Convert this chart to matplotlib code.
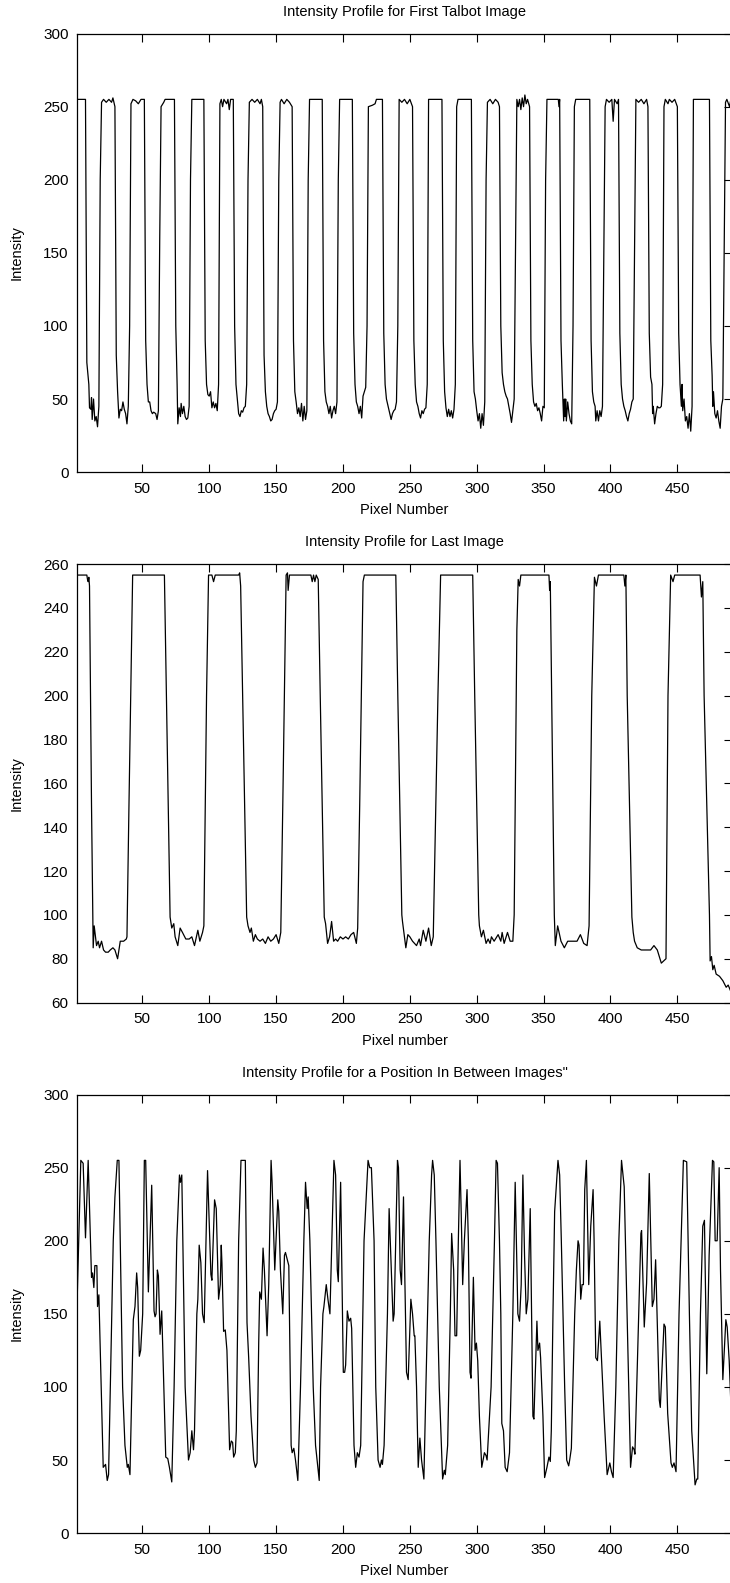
import matplotlib
matplotlib.use("Agg")
import matplotlib.pyplot as plt

plt.rcParams['font.family'] = ['Liberation Sans', 'DejaVu Sans']

# Panel 1: intensity profile for first Talbot image (pixel, intensity)
first_px = [1, 7.5, 8.5, 10, 10.5, 11.5, 12, 12.5, 13.5, 14.5, 15.5, 16.5, 17.5, 18.5, 19.5, 21, 23, 25, 27, 28, 29.5,
            30.5, 31.5, 32.5, 33.5, 34.5, 35.5, 36.5, 37.5, 38.5, 39.5, 40.5, 41.5, 43, 45, 47, 49, 51.5,
            52.5, 53.5, 54.5, 55.5, 56.5, 57.5, 58.5, 60, 61, 62, 63, 64, 66, 67, 74,
            75, 76, 76.5, 77.5, 78.5, 79, 80, 81, 82, 83, 84, 85, 86, 87, 96,
            97, 98, 99, 100, 101, 102, 103, 104, 105, 106, 107, 108, 109, 110, 111, 113, 114, 115, 116, 118,
            119, 120, 121, 122, 123, 124, 125, 126, 127, 128, 129, 130, 132, 134, 136, 138, 139, 140,
            141, 142, 143, 144, 145, 146, 147, 148, 149, 150, 151, 152, 153, 154, 156, 158, 160, 162,
            163, 164, 165, 166, 167, 168, 169, 170, 171, 172, 173, 174, 175, 184.5,
            185.5, 186.5, 187.5, 188.5, 189.5, 190.5, 191.5, 192.5, 193.5, 194.5, 195.5, 196.5, 197.5, 207,
            208, 209, 210, 211, 212, 213, 214, 215, 216, 217, 218, 219, 222, 224, 225, 229.5,
            230.5, 231.5, 232.5, 233.5, 234.5, 236, 237, 238, 239, 240, 241, 242, 244, 246, 248, 250, 252,
            253, 254, 255, 256, 257, 258, 259, 260, 261, 262, 263, 264, 274,
            275, 276, 277, 278, 279, 280, 281, 282, 283, 284, 285, 286, 296,
            297, 298, 299, 300, 301, 302, 303, 304, 305, 306, 307, 308, 310, 312, 314, 316, 317,
            318, 319, 320, 321, 322, 323, 324, 325, 326, 327, 328, 329, 330, 331, 332, 333, 334, 335, 336, 337, 338, 339.5,
            340.5, 341.5, 342.5, 343.5, 344.5, 345.5, 346.5, 347.5, 348.5, 349.5, 350.5, 351.5, 352.5, 361, 361.5, 362,
            363, 364, 365, 365.5, 366, 366.5, 367, 368, 369, 370, 371, 372, 373, 374, 384.5,
            385.5, 386.5, 387.5, 388.5, 389, 390, 391, 392, 393, 394, 395, 396, 397, 399, 401, 402, 403, 405, 406,
            407, 408, 409, 410, 411, 412, 413, 414, 415, 416, 417, 418, 419, 421, 423, 425, 427, 428,
            429, 430, 431, 431.5, 432, 433, 434, 435, 436, 437, 438, 439, 440, 441, 443, 444, 446, 448, 450,
            451, 452, 453, 453.5, 454, 455, 456, 457, 458, 459, 460, 461, 462, 474,
            475, 476, 476.5, 477, 478, 479, 480, 481, 482, 483, 484, 485, 486, 487, 489, 490, 491]
first_int = [255, 255, 75, 60, 44, 43, 51, 36, 50, 35, 38, 31, 45, 200, 253, 255, 253, 255, 253, 256, 250,
             80, 55, 37, 43, 42, 48, 43, 40, 33, 45, 100, 252, 255, 254, 252, 255, 255,
             90, 60, 48, 48, 42, 40, 41, 40, 36, 42, 160, 250, 253, 255, 255,
             100, 60, 33, 44, 38, 47, 40, 45, 38, 36, 37, 45, 200, 255, 255,
             90, 60, 53, 52, 55, 44, 48, 44, 47, 42, 60, 252, 255, 250, 255, 252, 255, 248, 255, 255,
             100, 60, 50, 40, 38, 42, 41, 44, 45, 60, 200, 253, 255, 253, 255, 252, 255, 250,
             80, 55, 45, 40, 38, 35, 36, 40, 42, 43, 48, 200, 253, 255, 252, 255, 253, 250,
             90, 55, 48, 40, 44, 38, 47, 35, 45, 36, 42, 200, 255, 255,
             90, 55, 48, 45, 40, 45, 37, 42, 45, 40, 48, 200, 255, 255,
             95, 60, 48, 45, 40, 45, 37, 52, 55, 58, 100, 250, 251, 252, 255, 255,
             95, 60, 50, 46, 42, 36, 40, 42, 43, 48, 100, 255, 253, 255, 252, 255, 250,
             90, 60, 48, 45, 40, 37, 42, 40, 43, 44, 60, 255, 255,
             90, 55, 44, 38, 43, 38, 42, 37, 43, 60, 250, 255, 255,
             90, 55, 50, 42, 35, 40, 30, 40, 32, 48, 200, 253, 255, 252, 255, 253, 250,
             100, 68, 60, 55, 52, 50, 45, 40, 34, 42, 50, 150, 255, 250, 255, 248, 256, 250, 258, 252, 255, 250,
             90, 60, 48, 45, 47, 42, 44, 40, 35, 45, 44, 200, 255, 255, 250, 255,
             90, 60, 35, 50, 38, 50, 35, 48, 40, 35, 33, 100, 250, 255, 255,
             90, 55, 48, 45, 35, 42, 35, 42, 38, 45, 150, 250, 255, 253, 255, 240, 255, 252, 255,
             95, 60, 50, 45, 42, 38, 35, 40, 43, 48, 50, 150, 255, 253, 255, 252, 255, 250,
             95, 65, 60, 40, 45, 33, 40, 45, 44, 44, 45, 60, 250, 255, 252, 255, 253, 255, 250,
             95, 60, 45, 60, 42, 50, 35, 38, 30, 40, 28, 45, 255, 255,
             90, 66, 45, 55, 40, 37, 42, 35, 30, 45, 50, 150, 253, 255, 250, 255, 252]

# Panel 2: intensity profile for last image
last_px = [1, 8.5, 9, 9.5, 10, 10.5, 12, 13.25, 14, 15, 15.75, 17, 18, 19.5, 21, 22.5, 24.5, 26, 28, 29.5,
           31.5, 32.5, 33.5, 36, 38, 38.5, 40, 42.75, 66.5, 68, 70.75, 72, 73.5, 74.5, 76.5, 78.25, 80,
           82.5, 85, 87, 89, 91.5, 93, 95, 96, 98, 99.5, 102, 103.25, 104.5, 122, 122.75, 123.5, 125,
           128, 129, 130.5, 131.5, 133, 134.5, 136, 138, 140, 142, 144, 146, 148, 150, 152, 153.5, 155,
           157.5, 158.5, 159, 160, 176, 177, 178, 179, 180, 181.5, 183, 186, 187, 188.5, 190, 191.5, 193,
           194.5, 196, 198, 200, 202, 204, 206, 208, 210, 211, 212.5, 215, 216, 239.5, 241, 244, 244.5,
           246, 247, 248.5, 250, 252, 255, 257, 258, 260, 262, 264, 266, 267.5, 271, 273, 297, 298.5,
           301.5, 302, 303.5, 305, 307, 308.5, 310, 311, 313, 315, 316, 318, 319, 320.5, 323, 325, 327,
           328, 330, 331, 332, 333, 354, 354.5, 355, 356, 358, 358.75, 360.5, 363, 365.5, 368, 370, 375,
           377.5, 380, 382.5, 384, 386, 388, 389.5, 391, 410, 410.75, 411.5, 412.5, 416, 417, 418, 420,
           423, 430, 432.5, 435, 438, 441.5, 443, 445, 446.75, 448, 467, 468, 469, 470, 474, 474.5,
           475.5, 476.5, 477.5, 479, 481.5, 484, 486.5, 488, 490, 491]
last_int = [255, 255, 253, 252, 254, 250, 150, 85, 95, 90, 86, 88, 85, 88, 84, 83, 83, 84, 85, 84,
            80, 84, 88, 88, 89, 90, 150, 255, 255, 200, 99, 94, 96, 90, 86, 94, 92,
            89, 89, 90, 86, 93, 88, 92, 95, 200, 255, 255, 252, 255, 255, 256, 250, 200,
            99, 95, 92, 94, 88, 91, 89, 88, 89, 87, 90, 88, 89, 91, 87, 92, 150,
            255, 256, 248, 255, 255, 252, 255, 252, 255, 253, 200, 99, 96, 87, 90, 97, 88,
            89, 88, 90, 89, 90, 89, 91, 92, 87, 94, 150, 252, 255, 255, 200, 100, 97,
            90, 85, 91, 90, 88, 86, 89, 86, 93, 88, 94, 86, 90, 200, 255, 255, 200,
            100, 95, 90, 93, 87, 89, 87, 90, 88, 90, 91, 88, 92, 87, 92, 88, 88,
            100, 230, 253, 250, 255, 255, 248, 252, 200, 100, 86, 95, 88, 85, 88, 88, 88,
            91, 87, 86, 95, 200, 254, 250, 255, 255, 250, 255, 200, 99, 92, 88, 85,
            84, 84, 86, 84, 78, 80, 200, 255, 252, 255, 255, 245, 252, 200, 100, 79,
            81, 75, 77, 73, 72, 70, 67, 68, 65, 66]

# Panel 3: intensity profile between images
mid_px = [1, 4, 5.75, 7.5, 9.5, 12, 12.75, 13.75, 14.5, 16, 16.5, 17.5, 20.75, 22.5, 23.75, 24.75, 28.25,
          29.5, 31.25, 32.5, 35.25, 37, 38.75, 39.5, 40.75, 43.25, 44.5, 45.75, 46.5, 47.75, 48.75, 50.25,
          51.5, 52.5, 54.5, 57, 58.75, 59.5, 60.25, 61.25, 62, 63.25, 64.5, 67.5, 69, 70.25, 72, 73.75,
          75.75, 77.75, 78.5, 79.5, 82, 84.5, 85.75, 87, 88.25, 89, 90.75, 91.5, 92.5, 93.75, 95, 96.25,
          98.75, 101.25, 102, 104, 105.25, 107, 108.25, 109, 109.5, 110.75, 112, 113.25, 115.25, 116.5,
          117.5, 118.25, 119.5, 120.25, 122, 123.75, 127, 128.25, 129.5, 131.25, 133.25, 134.5, 135.75,
          137, 137.75, 139, 140.25, 141.25, 143.25, 144.5, 146.25, 147, 149, 151.25, 152, 153.25, 155,
          156.25, 157, 159.5, 161.25, 162, 163.25, 164.5, 166.25, 168.25, 170.75, 172, 173.25, 174,
          175.25, 177.75, 179.5, 182.25, 183.25, 185, 185.75, 187.5, 188.75, 190.25, 193.25, 194.5,
          195.75, 196.5, 198.25, 200.25, 201.25, 202, 203.25, 204.5, 205.75, 206.5, 208.25, 209.5,
          210.75, 212, 213.25, 215.75, 218.75, 220, 221.25, 223.25, 224.5, 226.25, 227.75, 228.75,
          229.5, 230.75, 233.25, 234.5, 235.75, 237.5, 238.25, 240.75, 241.5, 242.75, 243.75, 245.25,
          245.75, 247.5, 248.75, 250.75, 252, 253.25, 253.75, 255, 256.25, 257.5, 258.75, 260.5, 262,
          264.5, 266.25, 267, 268.25, 269.5, 272, 274.5, 275.75, 276.5, 278.25, 280.25, 281.25, 282.75,
          283.75, 285, 286.25, 287.5, 288.25, 289.5, 290.75, 292.75, 293.75, 295, 295.75, 297.5, 298.75,
          299.75, 300.75, 302, 303.75, 305.75, 307, 307.75, 310.75, 313.25, 314.5, 315.5, 317, 318,
          318.75, 320, 321.25, 322.75, 324.5, 327, 328.75, 330.75, 332, 333.25, 334.5, 335.75, 337,
          338.25, 340, 340.75, 342, 342.75, 345, 345.75, 347, 347.75, 349.5, 350.75, 352.5, 354, 355,
          355.75, 357, 358.25, 360.75, 362, 363.25, 365.75, 367.25, 368.75, 369.5, 370.75, 373.25,
          374.5, 375.75, 376.5, 377.75, 378.75, 379.75, 380.75, 382, 383.75, 385.25, 387, 387.75, 389,
          390.25, 392, 393.25, 395.25, 397.5, 399.5, 400.75, 402, 404, 406.25, 408.25, 410.25, 415,
          416.5, 417.75, 418.25, 422.75, 423.25, 425.25, 427, 429, 431.25, 432.5, 433.75, 436.5,
          437.25, 440, 441, 442.75, 445.25, 446.25, 447.5, 449, 451.25, 454.5, 457, 459, 460.75,
          463.25, 464.5, 465.25, 467.25, 469, 470.25, 472, 473.75, 476.25, 477.25, 478.25, 479.75,
          481.25, 482.25, 484, 486.25, 487.25, 488.75, 490, 491]
mid_int = [150, 255, 253, 202, 255, 175, 178, 168, 183, 183, 155, 163, 45, 47, 36, 40, 200,
           230, 255, 255, 100, 60, 45, 47, 40, 146, 155, 178, 168, 121, 125, 150,
           255, 255, 165, 238, 152, 148, 150, 180, 176, 136, 152, 52, 51, 45, 35, 100,
           200, 245, 240, 245, 100, 50, 55, 70, 57, 70, 150, 160, 197, 185, 150, 144,
           248, 177, 173, 228, 222, 160, 170, 197, 185, 138, 139, 125, 57, 63,
           62, 52, 55, 70, 200, 255, 255, 144, 120, 80, 50, 45, 48,
           130, 165, 160, 195, 180, 135, 170, 255, 240, 180, 228, 220, 180, 150,
           190, 192, 183, 60, 55, 58, 50, 36, 100, 200, 240, 222, 230,
           200, 100, 60, 36, 100, 150, 155, 170, 160, 150, 255, 245,
           180, 172, 240, 110, 110, 115, 152, 145, 147, 140, 60, 45,
           55, 52, 60, 200, 255, 250, 250, 200, 100, 50, 45, 50,
           47, 60, 150, 222, 190, 145, 150, 255, 250, 180, 170, 230,
           200, 110, 105, 160, 150, 135, 135, 100, 45, 65, 50, 37, 100,
           200, 245, 255, 245, 200, 100, 37, 43, 40, 60, 150, 205, 180,
           135, 135, 200, 255, 225, 170, 200, 235, 200, 110, 106, 175, 125,
           130, 118, 80, 45, 55, 53, 50, 100, 200, 255, 253, 200, 150,
           75, 70, 45, 42, 55, 150, 240, 150, 145, 170, 245, 190, 150,
           160, 222, 170, 80, 78, 145, 125, 130, 120, 80, 38, 45, 52, 49,
           70, 150, 220, 255, 245, 200, 100, 50, 46, 50, 58, 150,
           180, 200, 197, 160, 170, 170, 235, 255, 170, 210, 235, 200, 120,
           118, 145, 120, 80, 40, 48, 42, 38, 100, 200, 255, 237, 45,
           59, 57, 54, 205, 207, 141, 171, 246, 155, 160, 187, 91,
           86, 143, 141, 82, 48, 45, 48, 42, 150, 255, 254, 150, 70,
           33, 37, 37, 150, 210, 214, 109, 190, 255, 254, 200, 200,
           250, 180, 105, 146, 141, 118, 90, 55]

titles = ["Intensity Profile for First Talbot Image",
          "Intensity Profile for Last Image",
          "Intensity Profile for a Position In Between Images\""]
xlabels = ["Pixel Number", "Pixel number", "Pixel Number"]
ylims = [(0, 300), (60, 260), (0, 300)]
ysteps = [50, 20, 50]
series = [(first_px, first_int), (last_px, last_int), (mid_px, mid_int)]

W, H = 730, 1583
fig = plt.figure(figsize=(W / 100, H / 100), dpi=100)

left_px, right_px = 76.8, 732.2
tops = [33.6, 564.1, 1094.6]
ax_h = 438.5

for i in range(3):
    top = tops[i]
    ax = fig.add_axes([left_px / W, (H - top - ax_h) / H, (right_px - left_px) / W, ax_h / H])
    xs, ys = series[i]
    ax.plot(xs, ys, color='black', lw=0.9)
    ax.set_xlim(1, 491)
    ax.set_ylim(*ylims[i])
    ax.set_xticks(range(50, 451, 50))
    lo, hi = ylims[i]
    ax.set_yticks(range(lo, hi + 1, ysteps[i]))
    ax.tick_params(direction='in', length=6, width=0.8, labelsize=11)
    ax.tick_params(axis='x', top=True, pad=7)
    ax.tick_params(axis='y', left=False, right=True, pad=6)
    for s in ax.spines.values():
        s.set_linewidth(0.9)
    bottom = top + ax_h
    fig.text(0.5 * (left_px + right_px) / W, 1 - (top - 22) / H, titles[i],
             ha='center', va='center', fontsize=10.5)
    fig.text(0.5 * (left_px + right_px) / W, 1 - (bottom + 38) / H, xlabels[i],
             ha='center', va='center', fontsize=10.5)
    fig.text(16.7 / W, 1 - (top + ax_h / 2) / H, "Intensity", rotation=90,
             ha='center', va='center', fontsize=10.5)

fig.savefig("out.png", dpi=100)
